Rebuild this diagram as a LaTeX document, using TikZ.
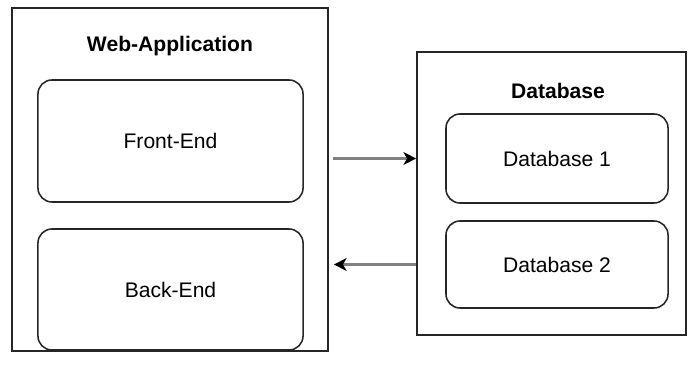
\documentclass[tikz,border=0pt]{standalone}
\usepackage{fontspec}
\setmainfont{Liberation Sans}
\usepackage{xcolor}
\usepackage{tikz}
\usetikzlibrary{arrows.meta,positioning,calc}

\begin{document}
\begin{tikzpicture}[
  x=0.025cm, y=-0.025cm,
  outer/.style={draw=black!85, line width=1.1pt, inner sep=0pt},
  part/.style={draw=black!85, line width=1.1pt, rounded corners=10pt, inner sep=0pt, minimum width=6.625cm, minimum height=3.05cm, font=\fontsize{15}{18}\selectfont},
  dbpart/.style={part, minimum width=5.55cm, minimum height=2.2cm},
  title/.style={font=\fontsize{15}{18}\selectfont\bfseries},
  arrow/.style={-{Stealth[length=9pt, width=9pt, inset=2.5pt, color=black]}, draw=black!50, line width=2pt}
]
\useasboundingbox (0,0) rectangle (688,379);
% web application side
\node[outer, minimum width=7.9cm, minimum height=8.575cm] (web) at (170,179.5) {};
\node[title] (webtitle) at (170,46) {Web-Application};
\node[part] (front) at (170.5,141) {Front-End};
\node[part, minimum height=3.025cm] (back) at (170.5,289.5) {Back-End};
% database side
\node[outer, minimum width=6.725cm, minimum height=7.075cm] (db) at (551.5,193.5) {};
\node[title] (dbtitle) at (558,91) {Database};
\node[dbpart, minimum height=2.225cm] (db1) at (557,158.5) {Database 1};
\node[dbpart, minimum height=2.175cm] (db2) at (557,264.5) {Database 2};
% connections
\draw[arrow] ([xshift=0.1cm]web.east |- db1) -- (db.west |- db1);
\draw[arrow] (db.west |- db2) -- ([xshift=0.125cm]web.east |- db2);
\end{tikzpicture}
\end{document}
